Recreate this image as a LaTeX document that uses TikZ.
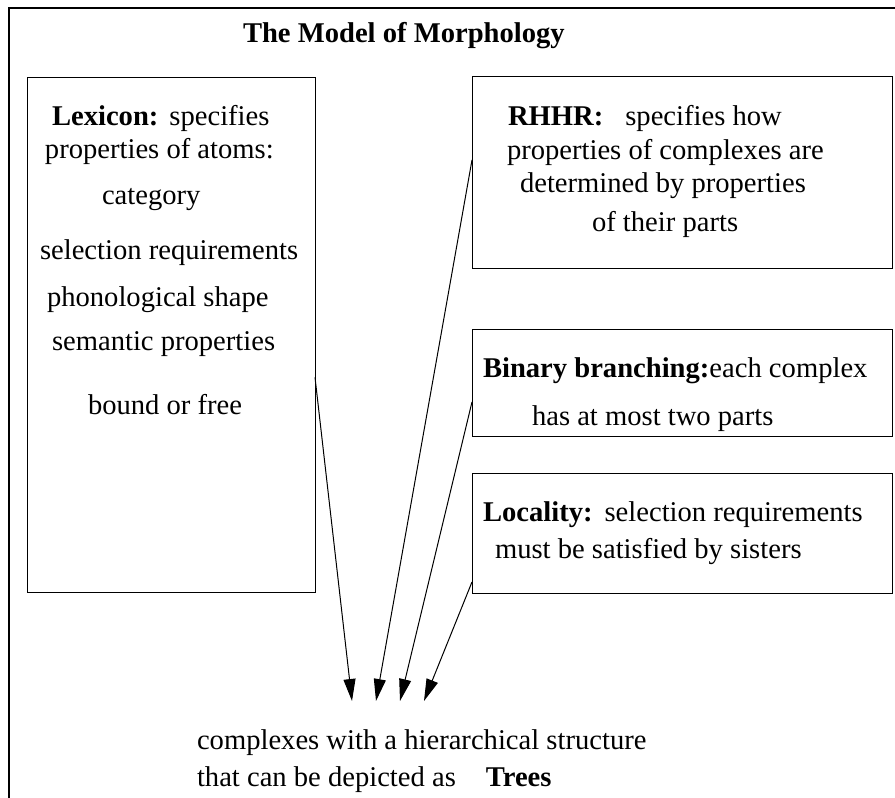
\documentclass[tikz,border=0pt]{standalone}
\usepackage{fontspec}
\setmainfont{Liberation Serif}
\usetikzlibrary{arrows.meta,calc}
\begin{document}
\begin{tikzpicture}[x=1pt,y=-1pt,
  box/.style={draw,line width=1pt,rectangle,inner sep=0pt,outer sep=0pt},
  txt/.style={anchor=base west,inner sep=0pt,outer sep=0pt,font=\fontsize{28.6}{34}\selectfont},
  arr/.style={line width=1pt,-{Triangle[length=22pt,width=12pt]}}]
\useasboundingbox (0,0) rectangle (895,798);
% frame
\draw[line width=1.2pt] (9,798) -- (9,8) -- (895,8);
% title
\node[txt] (title) at (243,42) {\textbf{The Model of Morphology}};
% boxes
\node[box,minimum width=288pt,minimum height=515pt] (lex) at (171,334.5) {};
\node[box,minimum width=420pt,minimum height=192pt] (rhhr) at (682,172) {};
\node[box,minimum width=420pt,minimum height=107pt] (bin) at (682,382.5) {};
\node[box,minimum width=420pt,minimum height=120pt] (loc) at (682,533) {};
% lexicon text
\node[txt] (l1) at (52,125) {\textbf{Lexicon:}\hspace{11pt}specifies};
\node[txt] (l2) at (45,158) {properties of atoms:};
\node[txt] (l3) at (102,204) {category};
\node[txt] (l4) at (40,259) {selection requirements};
\node[txt] (l5) at (47,306) {phonological shape};
\node[txt] (l6) at (52,350) {semantic properties};
\node[txt] (l7) at (88,414) {bound or free};
% RHHR text
\node[txt] (r1) at (508,125) {\textbf{RHHR:}\hspace{22pt}specifies how};
\node[txt] (r2) at (507,159) {properties of complexes are};
\node[txt] (r3) at (520,192) {determined by properties};
\node[txt] (r4) at (592,231) {of their parts};
% binary
\node[txt] (b1) at (483,377) {\textbf{Binary branching:}each complex};
\node[txt] (b2) at (532,425) {has at most two parts};
% locality
\node[txt] (c1) at (483,521) {\textbf{Locality:}\hspace{12pt}selection requirements};
\node[txt] (c2) at (495,558) {must be satisfied by sisters};
% result
\node[txt] (res1) at (197,749) {complexes with a hierarchical structure};
\node[txt] (res2) at (197,786) {that can be depicted as\hspace{30pt}\textbf{Trees}};
% arrow ends
\coordinate (t1) at (352,701);
\coordinate (t2) at (376,701);
\coordinate (t3) at (400,701);
\coordinate (t4) at (424,701);
\draw[arr] ($(lex.north east)!0.583!(lex.south east)$) -- (t1);
\draw[arr] ($(rhhr.north west)!0.4375!(rhhr.south west)$) -- (t2);
\draw[arr] ($(bin.north west)!0.682!(bin.south west)$) -- (t3);
\draw[arr] ($(loc.north west)!0.908!(loc.south west)$) -- (t4);
\end{tikzpicture}
\end{document}
